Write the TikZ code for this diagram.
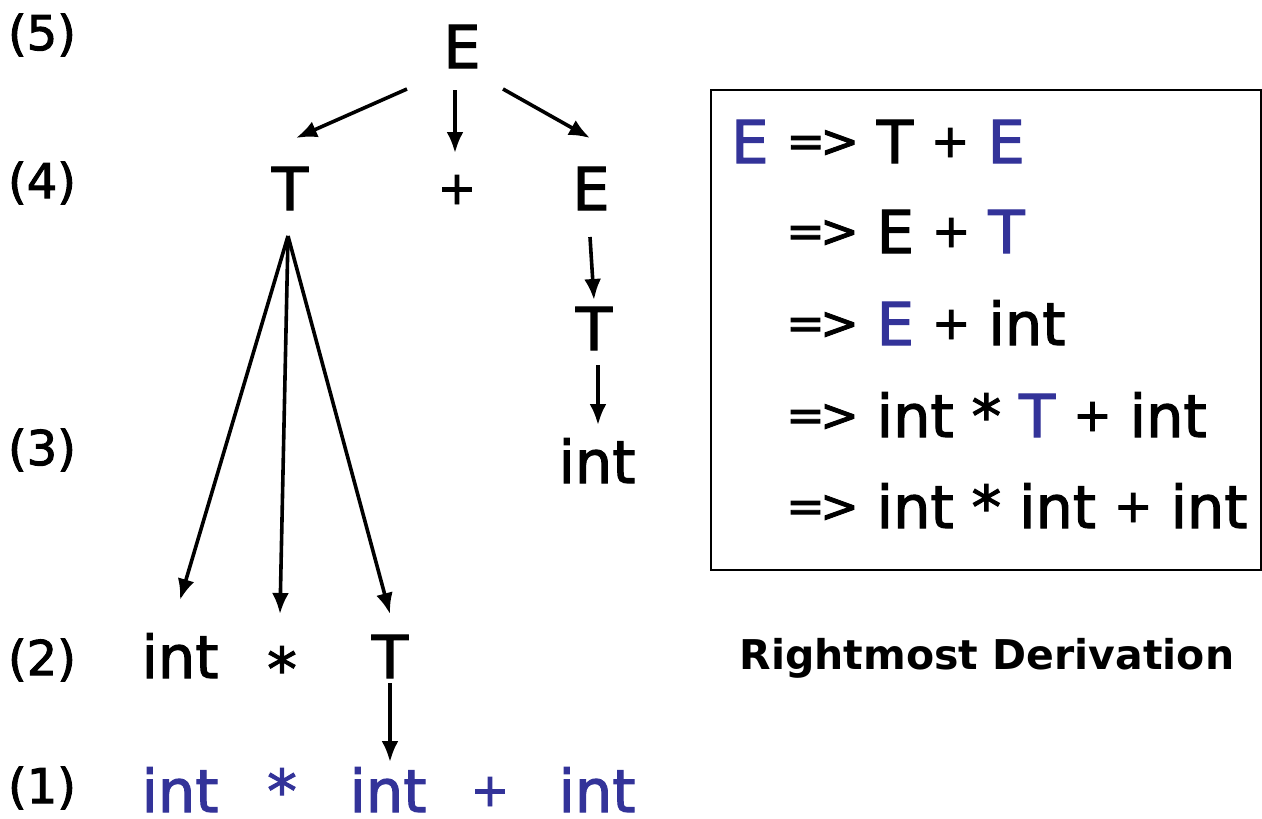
\documentclass[tikz,border=0pt]{standalone}
\usepackage{fontspec}
\setmainfont{DejaVu Sans}
\newfontfamily\thk[FakeBold=2]{DejaVu Sans}
\usetikzlibrary{arrows.meta}
\definecolor{blu}{RGB}{51,51,153}
\newcommand\arrw{\raisebox{6pt}{\fontsize{46}{50}\selectfont=\kern-0.1em>}}
\newcommand\pls{\raisebox{6pt}{\fontsize{46}{50}\selectfont+}}
\newcommand\tsp{\spaceskip=18pt\relax}
\begin{document}
\begin{tikzpicture}[x=1pt,y=-1pt,
  sym/.style={font=\thk\fontsize{59}{64}\selectfont, anchor=base, inner sep=0pt},
  lvl/.style={font=\thk\fontsize{48}{52}\selectfont, inner sep=0pt},
  arr/.style={line width=3.6pt, -{Latex[length=21pt,width=17pt]}},
  ln/.style={font=\thk\fontsize{59}{64}\selectfont, anchor=base west, inner sep=0pt},
  bx/.style={draw, line width=2.2pt}]
\useasboundingbox (0,0) rectangle (1262,819);
% level labels
\node[lvl] (l5) at (42,35) {(5)};
\node[lvl] (l4) at (42,183) {(4)};
\node[lvl] (l3) at (42,450) {(3)};
\node[lvl] (l2) at (42,660) {(2)};
\node[lvl] (l1) at (42,788) {(1)};
% tree
\node[sym] (E0) at (462,68) {E};
\node[sym] (T1) at (290,210) {T};
\node[sym] (P1) at (457,210) {\pls};
\node[sym] (E1) at (591,210) {E};
\node[sym] (T2) at (594,350) {T};
\node[sym] (I2) at (597,483) {int};
\node[sym] (I3) at (180,678) {int};
\node[sym] (S3) at (282,690) {*};
\node[sym] (T3) at (390,678) {T};
\node[sym, text=blu] (b1) at (180,812) {int};
\node[sym, text=blu] (b2) at (282,812) {*};
\node[sym, text=blu] (b3) at (388,812) {int};
\node[sym, text=blu] (b4) at (490,812) {\pls};
\node[sym, text=blu] (b5) at (597,812) {int};
% arrow ends
\coordinate (aEs1) at (407,89);  \coordinate (aEt1) at (296,138);
\coordinate (aEs2) at (455,90);  \coordinate (aEt2) at (455,153);
\coordinate (aEs3) at (503,89);  \coordinate (aEt3) at (590,138);
\coordinate (aTs) at (288,236);
\coordinate (aTt1) at (180,600);
\coordinate (aTt2) at (280,614);
\coordinate (aTt3) at (390,614);
\coordinate (aE1s) at (590,237); \coordinate (aE1t) at (594,300);
\coordinate (aT2s) at (598,365); \coordinate (aT2t) at (598,425);
\coordinate (aT3s) at (390,683); \coordinate (aT3t) at (390,762);
\draw[arr] (aEs1) -- (aEt1);
\draw[arr] (aEs2) -- (aEt2);
\draw[arr] (aEs3) -- (aEt3);
\draw[arr] (aTs) -- (aTt1);
\draw[arr] (aTs) -- (aTt2);
\draw[arr] (aTs) -- (aTt3);
\draw[arr] (aE1s) -- (aE1t);
\draw[arr] (aT2s) -- (aT2t);
\draw[arr] (aT3s) -- (aT3t);
% derivation box
\draw[bx] (711,90) rectangle (1261,570);
\node[ln] (d1) at (731,163) {\tsp\textcolor{blu}{E} \arrw{} T \pls{} \textcolor{blu}{E}};
\node[ln] (d2) at (786,253) {\tsp\arrw{} E \pls{} \textcolor{blu}{T}};
\node[ln] (d3) at (786,345) {\tsp\arrw{} \textcolor{blu}{E} \pls{} int};
\node[ln] (d4) at (786,437) {\tsp\arrw{} int * \textcolor{blu}{T} \pls{} int};
\node[ln] (d5) at (786,528) {\tsp\arrw{} int * int \pls{} int};
\node[font=\bfseries\fontsize{41}{44}\selectfont, inner sep=0pt] (rd) at (987,658) {Rightmost Derivation};
\end{tikzpicture}
\end{document}
